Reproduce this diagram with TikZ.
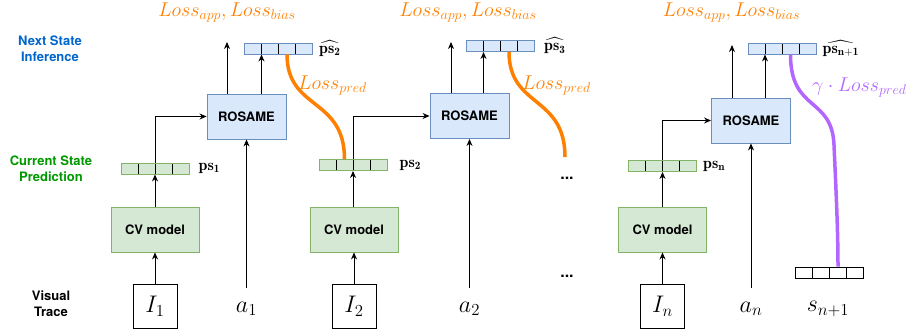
\RequirePackage{fix-cm}
\documentclass[tikz,border=0pt]{standalone}
\usepackage{amsmath}
\usepackage{fontspec}
\newfontfamily\heros{TeX Gyre Heros}
\usetikzlibrary{positioning,arrows.meta}
\definecolor{blueline}{HTML}{6C8EBF}
\definecolor{bluefill}{HTML}{DAE8FC}
\definecolor{greenline}{HTML}{82B366}
\definecolor{greenfill}{HTML}{D5E8D4}
\definecolor{lossorange}{HTML}{FF8000}
\definecolor{losspurple}{HTML}{B266FF}
\definecolor{rowblue}{HTML}{0066CC}
\definecolor{rowgreen}{HTML}{009900}

\begin{document}
\begin{tikzpicture}[x=1pt,y=-1pt,
    arr/.style={-{Stealth[length=7pt,width=6pt]},line width=0.9pt},
    box/.style={draw,line width=0.9pt,minimum width=88pt,minimum height=45pt,font=\heros\bfseries\fontsize{13}{16}\selectfont},
    rosame/.style={box,draw=blueline,fill=bluefill,minimum width=79pt},
    cv/.style={box,draw=greenline,fill=greenfill},
    img/.style={draw,line width=0.9pt,minimum size=44pt,inner sep=0pt,font=\fontsize{24}{28}\selectfont},
    sym/.style={minimum height=42pt,font=\fontsize{24}{28}\selectfont},
    vec/.style={draw=#1,line width=0.9pt,minimum width=68pt,minimum height=11pt,inner sep=0pt,
      path picture={\foreach \k in {-17,0,17}
        \draw[black,line width=0.9pt] ([xshift=\k pt]path picture bounding box.south) -- ([xshift=\k pt]path picture bounding box.north);}},
    psl/.style={inner sep=1pt,font=\fontsize{16}{18}\selectfont},
    lossl/.style={inner sep=1pt,text=lossorange,font=\fontsize{20}{24}\selectfont},
    rowl/.style={align=center,font=\heros\bfseries\fontsize{13}{16}\selectfont},
    dots/.style={font=\heros\bfseries\fontsize{16}{18}\selectfont}]
  \useasboundingbox (0,0) rectangle (913,333);

  \node[rowl,text=rowblue] (next) at (50,49) {Next State\\Inference};
  \node[rowl,text=rowgreen] (cur) at (51,169) {Current State\\Prediction};
  \node[rowl] (vis) at (51,304) {Visual\\Trace};

  \node[img] (I1) at (155,306) {$I_1$};
  \node[cv] (cv1) at (155,229.5) {CV model};
  \node[vec=greenline,fill=greenfill] (ps1) at (155,168.5) {};
  \node[psl,right=8pt of ps1] (ps1lab) {$\mathbf{ps_1}$};
  \node[rosame] (ros1) at (246.5,116.5) {ROSAME};
  \node[sym] (a1) at (246.5,309) {$a_1$};
  \node[vec=blueline,fill=bluefill] (hat2) at (278.5,48.5) {};
  \node[psl,right=5pt of hat2] (hat2lab) {$\widehat{\mathbf{ps_2}}$};
  \node[lossl] (app1) at (227,13) {$Loss_{app}, Loss_{bias}$};
  \coordinate (up1) at (227,42);
  \node[lossl,anchor=west] (pred1) at (297,86) {$Loss_{pred}$};

  \node[img] (I2) at (354,306) {$I_2$};
  \node[cv] (cv2) at (354,229.5) {CV model};
  \node[vec=greenline,fill=greenfill] (ps2) at (353,165) {};
  \node[psl,right=11pt of ps2] (ps2lab) {$\mathbf{ps_2}$};
  \node[rosame] (ros2) at (469.5,116) {ROSAME};
  \node[sym] (a2) at (469.5,309) {$a_2$};
  \node[vec=blueline,fill=bluefill] (hat3) at (500.5,46) {};
  \node[psl,right=8pt of hat3] (hat3lab) {$\widehat{\mathbf{ps_3}}$};
  \node[lossl] (app2) at (468,13) {$Loss_{app}, Loss_{bias}$};
  \coordinate (up2) at (451,42);
  \node[lossl,anchor=west] (pred2) at (521,86) {$Loss_{pred}$};
  \coordinate (cut2) at (565,157);
  \node[dots] (dots1) at (567,178) {...};
  \node[dots] (dots2) at (567,276) {...};

  \node[img] (In) at (662.5,306) {$I_n$};
  \node[cv] (cvn) at (662.5,229.5) {CV model};
  \node[vec=greenline,fill=greenfill] (psn) at (662.5,166) {};
  \node[psl,right=5pt of psn] (psnlab) {$\mathbf{ps_n}$};
  \node[rosame] (rosn) at (751,120.5) {ROSAME};
  \node[sym] (an) at (751,309) {$a_n$};
  \node[vec=blueline,fill=bluefill] (hatn) at (782,48.5) {};
  \node[psl,right=5pt of hatn] (hatnlab) {$\widehat{\mathbf{ps_{n+1}}}$};
  \node[lossl] (appn) at (731.5,13) {$Loss_{app}, Loss_{bias}$};
  \coordinate (upn) at (732,45);
  \node[lossl,text=losspurple,anchor=west] (predn) at (811,88) {$\gamma\cdot Loss_{pred}$};
  \node[vec=black,fill=white] (snext) at (829.5,272.5) {};
  \node[sym] (snlab) at (828,309) {$s_{n+1}$};

  \draw[arr] (I1) -- (cv1);
  \draw[arr] (cv1) -- (ps1);
  \draw[arr] (ps1.north) |- (ros1);
  \draw[arr] (a1) -- (ros1);
  \draw[arr] (ros1.north -| up1) -- (up1);
  \draw[arr] ([xshift=-17pt]hat2.south |- ros1.north) -- ([xshift=-17pt]hat2.south);
  \draw[lossorange,line width=3.5pt] ([xshift=8.5pt]hat2.south) .. controls +(0,56) and +(0,-62) .. ([xshift=-8.5pt]ps2.north);

  \draw[arr] (I2) -- (cv2);
  \draw[arr] (cv2.north -| ps2) -- (ps2);
  \draw[arr] (ps2.north) |- (ros2);
  \draw[arr] (a2) -- (ros2);
  \draw[arr] (ros2.north -| up2) -- (up2);
  \draw[arr] ([xshift=-17pt]hat3.south |- ros2.north) -- ([xshift=-17pt]hat3.south);
  \draw[lossorange,line width=3.5pt] ([xshift=8.5pt]hat3.south) .. controls +(0,56) and +(0,-62) .. (cut2);

  \draw[arr] (In) -- (cvn);
  \draw[arr] (cvn) -- (psn);
  \draw[arr] (psn.north) |- (rosn);
  \draw[arr] (an) -- (rosn);
  \draw[arr] (rosn.north -| upn) -- (upn);
  \draw[arr] ([xshift=-17pt]hatn.south |- rosn.north) -- ([xshift=-17pt]hatn.south);
  \draw[losspurple,line width=3.5pt] ([xshift=8.5pt]hatn.south) .. controls +(0,58) and (832,96) .. (834,145)
    .. controls (836,190) and (838,230) .. ([xshift=8.5pt]snext.north);
\end{tikzpicture}
\end{document}
